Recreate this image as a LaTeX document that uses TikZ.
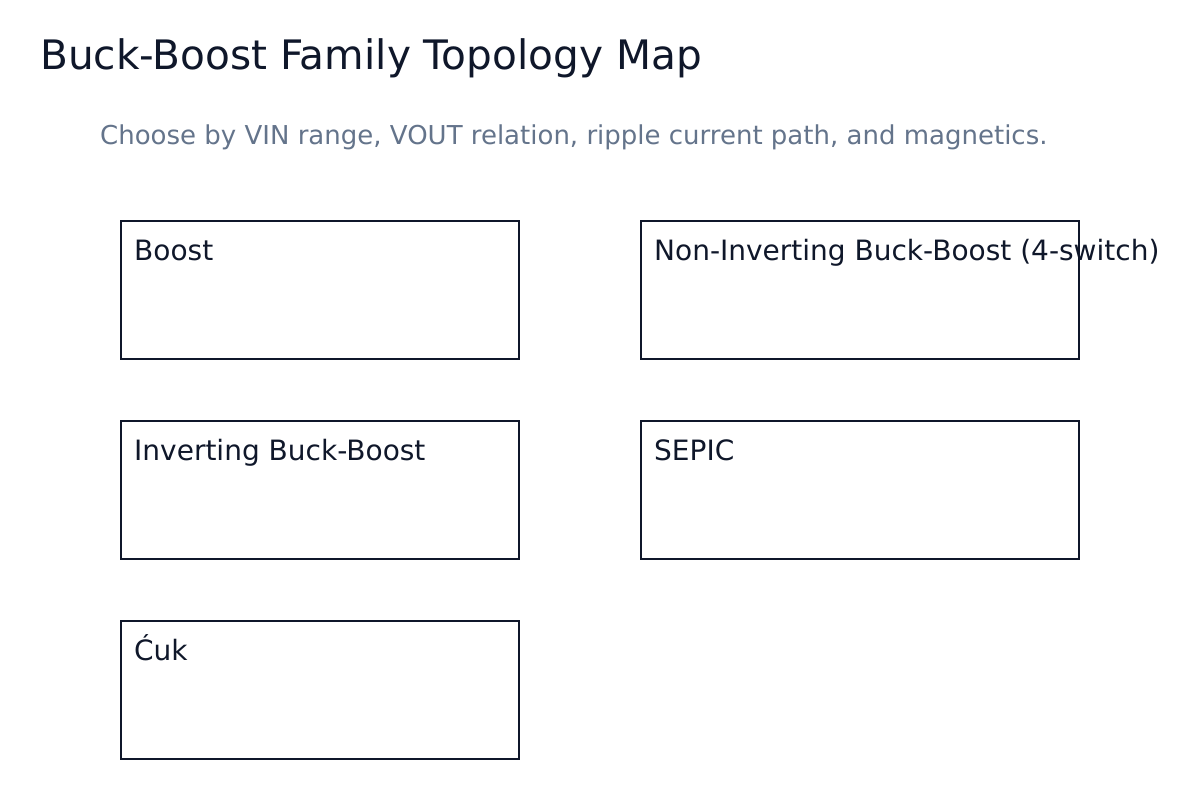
\documentclass[tikz,border=0pt]{standalone}
\usepackage{fontspec}
\setmainfont{DejaVu Sans}
\usepackage{tikz}
\usetikzlibrary{positioning}
\definecolor{ink}{HTML}{0F172A}
\definecolor{muted}{HTML}{64748B}
\tikzset{
  topobox/.style={rectangle, draw=ink, line width=2.5pt, minimum height=138pt, inner sep=0pt, outer sep=0pt, anchor=north west},
  narrow/.style={minimum width=398pt},
  wide/.style={minimum width=438pt},
  boxlabel/.style={anchor=base west, inner sep=0pt, text=ink, font=\fontsize{28}{33}\selectfont},
  titletext/.style={anchor=base west, inner sep=0pt, text=ink, font=\fontsize{40.6}{48}\selectfont},
  subtext/.style={anchor=base west, inner sep=0pt, text=muted, font=\fontsize{26}{31}\selectfont},
}
\begin{document}
\begin{tikzpicture}[x=1pt, y=-1pt]
  \useasboundingbox[fill=white] (0,0) rectangle (1200,800);
  \node[titletext] (title) at (40,70) {Buck-Boost Family Topology Map};
  \node[subtext] (subtitle) at (100,144.5) {Choose by VIN range, VOUT relation, ripple current path, and magnetics.};

  \node[topobox, narrow] (boost) at (121,221) {};
  \node[topobox, wide] (nibb) at (641,221) {};
  \node[topobox, narrow] (ibb) [below=62pt of boost.south west, anchor=north west] {};
  \node[topobox, wide] (sepic) [below=62pt of nibb.south west, anchor=north west] {};
  \node[topobox, narrow] (cuk) [below=62pt of ibb.south west, anchor=north west] {};

  \node[boxlabel] at ([xshift=13pt, yshift=-39.5pt]boost.north west) {Boost};
  \node[boxlabel] at ([xshift=13pt, yshift=-39.5pt]nibb.north west) {Non-Inverting Buck-Boost (4-switch)};
  \node[boxlabel] at ([xshift=13pt, yshift=-39.5pt]ibb.north west) {Inverting Buck-Boost};
  \node[boxlabel] at ([xshift=13pt, yshift=-39.5pt]sepic.north west) {SEPIC};
  \node[boxlabel] at ([xshift=13pt, yshift=-39.5pt]cuk.north west) {Ćuk};
\end{tikzpicture}
\end{document}
